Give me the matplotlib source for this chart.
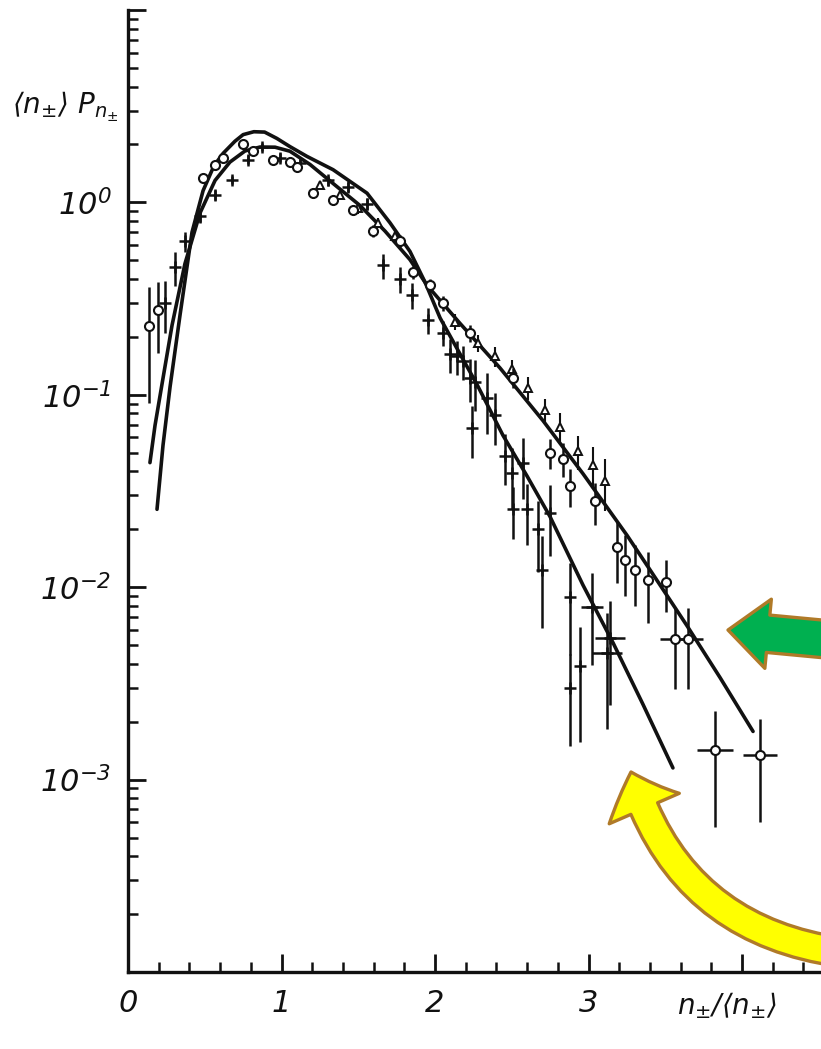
import matplotlib
matplotlib.use("Agg")
import matplotlib.pyplot as plt
from matplotlib.patches import FancyArrowPatch
from matplotlib.ticker import MultipleLocator, LogLocator, FuncFormatter, NullFormatter, FixedLocator
import numpy as np

# ---- fitted KNO curves -------------------------------------------------
narrow_x = [0.189, 0.228, 0.274, 0.339, 0.417, 0.489, 0.560, 0.620, 0.697, 0.750,
            0.820, 0.890, 0.970, 1.055, 1.166, 1.336, 1.557, 1.707, 1.837, 1.935,
            2.033, 2.163, 2.274, 2.443, 2.599, 2.749, 2.964, 3.160, 3.355, 3.550]
narrow_y = [0.0254, 0.0546, 0.110, 0.260, 0.700, 1.150, 1.550, 1.800, 2.080, 2.250,
            2.330, 2.320, 2.150, 1.950, 1.734, 1.479, 1.117, 0.783, 0.556, 0.385,
            0.251, 0.163, 0.113, 0.0615, 0.0379, 0.0233, 0.01026, 0.00514, 0.00246, 0.00115]

broad_x = [0.143, 0.176, 0.221, 0.287, 0.371, 0.469, 0.567, 0.664, 0.762, 0.860,
           0.958, 1.055, 1.186, 1.349, 1.511, 1.674, 1.837, 1.948, 2.163, 2.423,
           2.704, 2.964, 3.251, 3.401, 3.642, 3.857, 4.072]
broad_y = [0.0444, 0.0693, 0.113, 0.230, 0.480, 0.880, 1.300, 1.620, 1.850, 1.940,
           1.936, 1.845, 1.574, 1.230, 0.964, 0.710, 0.504, 0.371, 0.235, 0.138,
           0.0733, 0.0389, 0.0186, 0.0123, 0.0063, 0.00339, 0.00178]

# ---- open circles ----------------------------------------------------------
circ_x = [0.137, 0.195, 0.489, 0.567, 0.619, 0.749, 0.814, 0.945, 1.055, 1.101,
          1.205, 1.336, 1.466, 1.596, 1.772, 1.857, 1.967, 2.052, 2.228, 2.508,
          2.749, 2.834, 2.879, 3.042, 3.186, 3.238, 3.303, 3.388, 3.505, 3.564,
          3.648, 3.824, 4.117]
circ_y = [0.227, 0.276, 1.34, 1.57, 1.71, 2.01, 1.85, 1.67, 1.63, 1.53,
          1.12, 1.03, 0.91, 0.71, 0.63, 0.435, 0.37, 0.30, 0.21, 0.123,
          0.050, 0.0466, 0.0336, 0.028, 0.0162, 0.0139, 0.0123, 0.0109, 0.0106, 0.0054,
          0.0054, 0.00142, 0.00134]
circ_rel_err = [0.6, 0.4, 0.05, 0.05, 0.05, 0.05, 0.05, 0.05, 0.05, 0.05,
                0.06, 0.06, 0.06, 0.07, 0.07, 0.08, 0.08, 0.09, 0.10, 0.12,
                0.18, 0.20, 0.22, 0.25, 0.35, 0.35, 0.35, 0.40, 0.30, 0.45,
                0.45, 0.60, 0.55]
circ_xerr = [0] * 29 + [0.10, 0.10, 0.12, 0.11]

# ---- open triangles --------------------------------------------------------
tri_x = [1.251, 1.381, 1.498, 1.629, 1.739, 2.130, 2.280, 2.391, 2.502, 2.606,
         2.717, 2.814, 2.932, 3.029, 3.107]
tri_y = [1.23, 1.09, 0.93, 0.78, 0.67, 0.24, 0.185, 0.159, 0.136, 0.109,
         0.083, 0.068, 0.051, 0.043, 0.0357]
tri_rel_err = [0.05, 0.05, 0.06, 0.06, 0.07, 0.10, 0.10, 0.12, 0.12, 0.14,
               0.15, 0.18, 0.20, 0.25, 0.30]

# ---- crosses ---------------------------------------------------------------
plus_x = [0.241, 0.306, 0.371, 0.469, 0.567, 0.678, 0.782, 0.873, 0.990, 1.121,
          1.300, 1.430, 1.560,
          1.661, 1.772, 1.850, 1.954, 2.052, 2.098, 2.143, 2.182, 2.228, 2.261,
          2.241, 2.339, 2.391, 2.456, 2.502, 2.573, 2.508, 2.599, 2.671, 2.697,
          2.749, 2.879, 3.023, 3.140, 3.121, 2.945, 2.879]
plus_y = [0.30, 0.46, 0.63, 0.85, 1.09, 1.31, 1.67, 1.94, 1.71, 1.61,
          1.30, 1.20, 0.98,
          0.47, 0.40, 0.33, 0.245, 0.21, 0.163, 0.159, 0.150, 0.123, 0.117,
          0.067, 0.096, 0.0785, 0.0483, 0.0394, 0.0444, 0.0254, 0.0254, 0.020, 0.0123,
          0.0242, 0.0089, 0.0079, 0.00545, 0.00457, 0.0039, 0.0030]
plus_rel_err = [0.30, 0.20, 0.12, 0.08, 0.06, 0.05, 0.05, 0.05, 0.05, 0.05,
                0.06, 0.06, 0.07,
                0.15, 0.15, 0.15, 0.15, 0.15, 0.20, 0.20, 0.20, 0.25, 0.30,
                0.30, 0.35, 0.30, 0.30, 0.35, 0.35, 0.30, 0.35, 0.40, 0.50,
                0.40, 0.50, 0.50, 0.55, 0.60, 0.60, 0.50]
plus_xerr = [0] * 35 + [0.07, 0.10, 0.10, 0, 0]

# ---- axis text -------------------------------------------------------------
x_tick_values = [0, 1, 2, 3, 4]
x_tick_labels = ['0', '1', '2', '3', '']
y_labelled_exponents = [0, -1, -2, -3]

plt.rcParams['font.family'] = ['Liberation Sans Narrow', 'DejaVu Sans']
plt.rcParams['font.style'] = 'italic'
plt.rcParams['mathtext.fontset'] = 'custom'
plt.rcParams['mathtext.rm'] = 'Liberation Sans Narrow:italic'
plt.rcParams['mathtext.it'] = 'Liberation Sans Narrow:italic'
plt.rcParams['mathtext.fallback'] = 'cm'

W, H = 821, 1049
fig = plt.figure(figsize=(W / 100, H / 100), dpi=100)
fig.patch.set_facecolor('white')

left_px, right_px, top_px, bottom_px = 128, 821, 10, 972
ax = fig.add_axes([left_px / W, 1 - bottom_px / H,
                   (right_px - left_px) / W, (bottom_px - top_px) / H])
ax.set_yscale('log')
ax.set_xlim(0, (right_px - left_px) / 153.5)
ax.set_ylim(1e-4, 1e1)

ink = '#111111'

# fitted curves
ax.plot(broad_x, broad_y, color=ink, lw=2.6, solid_capstyle='round',
        solid_joinstyle='round', zorder=3)
ax.plot(narrow_x, narrow_y, color=ink, lw=2.6, solid_capstyle='round',
        solid_joinstyle='round', zorder=3)

def rel_to_err(y, rel):
    y = np.asarray(y)
    rel = np.asarray(rel)
    return np.vstack([y * rel, y * rel])

ax.errorbar(plus_x, plus_y, yerr=rel_to_err(plus_y, plus_rel_err), xerr=plus_xerr,
            fmt='+', color=ink, ms=8, mew=1.8, elinewidth=1.8, capsize=0, zorder=4)
ax.errorbar(tri_x, tri_y, yerr=rel_to_err(tri_y, tri_rel_err),
            fmt='^', mfc='white', mec=ink, color=ink, ms=6, mew=1.4,
            elinewidth=1.5, capsize=0, zorder=4)
ax.errorbar(circ_x, circ_y, yerr=rel_to_err(circ_y, circ_rel_err), xerr=circ_xerr,
            fmt='o', mfc='white', mec=ink, color=ink, ms=6.5, mew=1.5,
            elinewidth=1.8, capsize=0, zorder=5)

# axes frame
for side in ('top', 'right'):
    ax.spines[side].set_visible(False)
for side in ('left', 'bottom'):
    ax.spines[side].set_linewidth(2.4)
    ax.spines[side].set_color(ink)

ax.xaxis.set_major_locator(FixedLocator(x_tick_values))
ax.set_xticklabels(x_tick_labels)
ax.xaxis.set_minor_locator(MultipleLocator(0.2))
ax.yaxis.set_major_locator(LogLocator(base=10, numticks=12))
ax.yaxis.set_minor_locator(LogLocator(base=10, subs=np.arange(2, 10), numticks=12))
ax.yaxis.set_minor_formatter(NullFormatter())

def ylab(v, pos):
    e = int(round(np.log10(v)))
    return r'$10^{%d}$' % e if e in y_labelled_exponents else ''

ax.yaxis.set_major_formatter(FuncFormatter(ylab))
ax.tick_params(which='major', direction='in', length=13, width=2.0, color=ink,
               labelsize=22, labelcolor=ink)
ax.tick_params(axis='x', which='major', pad=12)
ax.tick_params(axis='y', which='major', pad=12)
ax.tick_params(which='minor', direction='in', length=7, width=1.8, color=ink)

fig.text(12 / W, 1 - 107 / H, r'$\langle n_{\pm}\rangle\ P_{n_{\pm}}$',
         fontsize=20, color=ink, va='center', ha='left')
fig.text(727 / W, 1 - 1006 / H, r'$n_{\pm}/\langle n_{\pm}\rangle$',
         fontsize=20, color=ink, va='center', ha='center')

# highlight arrows
edge = '#b07a28'
green = FancyArrowPatch((845 / W, 1 - 641 / H), (728 / W, 1 - 630 / H),
                        transform=fig.transFigure,
                        arrowstyle='simple,head_length=29,head_width=50,tail_width=27',
                        mutation_scale=1, shrinkA=0, shrinkB=0,
                        fc='#00b050', ec=edge, lw=2.4, zorder=10)
yellow = FancyArrowPatch((840 / W, 1 - 952 / H), (631 / W, 1 - 772 / H),
                         transform=fig.transFigure,
                         connectionstyle='arc3,rad=-0.32',
                         arrowstyle='simple,head_length=28,head_width=55,tail_width=21',
                         mutation_scale=1, shrinkA=0, shrinkB=0,
                         fc='#ffff00', ec=edge, lw=2.4, zorder=10)
fig.add_artist(green)
fig.add_artist(yellow)

fig.savefig('out.png', dpi=100, facecolor='white')
